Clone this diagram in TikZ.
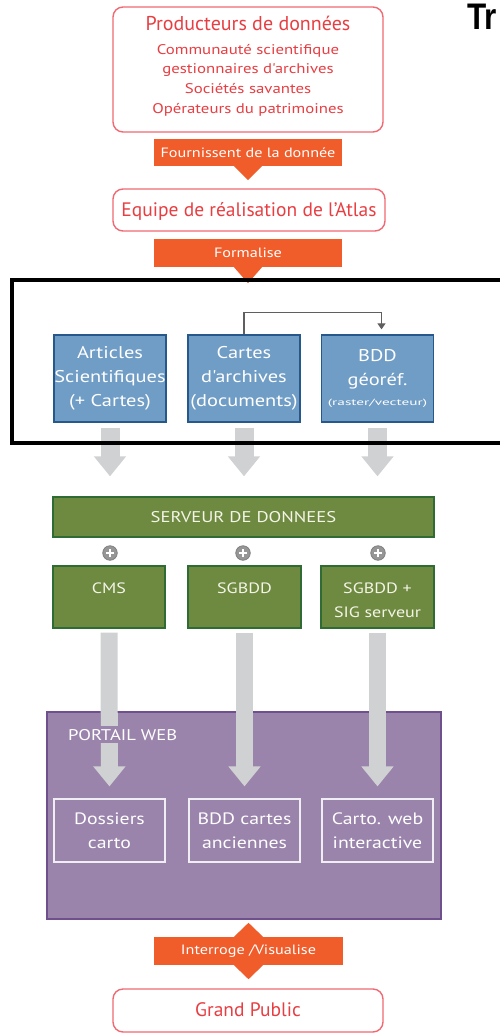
\documentclass[tikz,border=0pt]{standalone}
\usepackage{graphicx}
\usepackage{fontspec}
\setmainfont{PT Sans}
\newfontfamily\wide[FakeStretch=1.2]{PT Sans}
\newfontfamily\headfont[FakeStretch=0.85]{Liberation Sans}
\usetikzlibrary{arrows.meta}

\definecolor{redline}{RGB}{240,105,115}
\definecolor{redtext}{RGB}{232,62,66}
\definecolor{orangeband}{RGB}{240,92,42}
\definecolor{bluefill}{RGB}{112,157,197}
\definecolor{blueline}{RGB}{38,88,140}
\definecolor{greenfill}{RGB}{110,138,64}
\definecolor{greenline}{RGB}{46,108,52}
\definecolor{purplefill}{RGB}{155,132,172}
\definecolor{purpleline}{RGB}{112,80,140}
\definecolor{arrowgray}{RGB}{208,209,211}
\definecolor{linkgray}{RGB}{95,95,95}
\definecolor{plusgray}{RGB}{150,150,150}
\definecolor{lighttext}{RGB}{244,244,232}

% font size with a given line distance
\newcommand{\fs}[2]{\fontsize{#1}{#2}\selectfont}

\begin{document}
\begin{tikzpicture}[x=1pt,y=-1pt,
  redbox/.style={draw=redline, line width=1.4pt, rounded corners=10pt, fill=white},
  redtxt/.style={text=redtext, inner sep=0pt, anchor=base},
  band/.style={fill=orangeband, text=white, inner sep=0pt, font=\wide\fs{13.5}{16}},
  bluebox/.style={draw=blueline, line width=1.3pt, fill=bluefill, text=white,
    minimum width=112pt, minimum height=87pt, align=center, inner sep=0pt,
    font=\wide\fs{17}{24}},
  greenbox/.style={draw=greenline, line width=1.3pt, fill=greenfill, inner sep=0pt},
  gtext/.style={text=lighttext, align=center, font=\wide\fs{15}{24}, inner sep=0pt},
  portalbox/.style={draw=white!85!purplefill, line width=1.2pt, text=white,
    minimum width=111pt, minimum height=63pt, align=center, inner sep=0pt,
    font=\wide\fs{16.5}{24}},
  plusc/.style={circle, fill=plusgray, draw=plusgray!85!black, line width=0.8pt,
    minimum size=14.5pt, inner sep=0pt,
    path picture={\draw[white, line width=2.2pt]
      ([xshift=-4pt]path picture bounding box.center) -- ([xshift=4pt]path picture bounding box.center)
      ([yshift=-4pt]path picture bounding box.center) -- ([yshift=4pt]path picture bounding box.center);}},
  bigarrow/.style={draw=arrowgray, line width=19pt,
    -{Triangle[width=31pt,length=20pt]}},
  linkarrow/.style={draw=linkgray, line width=1.2pt,
    -{Triangle[width=8pt,length=6pt]}},
  tri/.style={fill=orangeband}
]
\useasboundingbox (0,0) rectangle (500,1033);

% heading, cut at the right edge
\node[anchor=base west, inner sep=0pt, font=\headfont\bfseries\fs{37}{40}] (head) at (467,29.5) {Tr};

% data producers
\node[redbox, minimum width=270pt, minimum height=125pt] (prod) at (248,69.5) {};
\node[redtxt, font=\fs{20}{24}] (prodt) at (248,30.7) {Producteurs de données};
\node[redtxt, font=\wide\fs{14}{18}] (prod1) at (248,54.5) {Communauté scientifique};
\node[redtxt, font=\wide\fs{14}{18}] (prod2) at (248,74) {gestionnaires d'archives};
\node[redtxt, font=\wide\fs{14}{18}] (prod3) at (248,93.5) {Sociétés savantes};
\node[redtxt, font=\wide\fs{14}{18}] (prod4) at (248,113) {Opérateurs du patrimoines};

\node[band, minimum width=188pt, minimum height=27pt] (four) at (248,152.5) {Fournissent de la donnée};
\fill[tri] ([xshift=-14pt]four.south) -- ([xshift=14pt]four.south) -- ([yshift=-14pt]four.south) -- cycle;

\node[redbox, minimum width=272pt, minimum height=42pt] (equipe) at (249,210) {};
\node[redtxt, font=\fs{19.5}{24}] (equipet) at (249,216.7) {Equipe de réalisation de l'Atlas};

\node[band, minimum width=188pt, minimum height=28pt] (form) at (248,253) {Formalise};
\fill[tri] ([xshift=-14pt]form.south) -- ([xshift=14pt]form.south) -- ([yshift=-16pt]form.south) -- cycle;

% sources
\node[bluebox] (art) at (110,378.5) {Articles\\Scientifiques\\(+ Cartes)};
\node[bluebox] (cart) at (244,378.5) {Cartes\\d'archives\\(documents)};
\node[bluebox] (bdd) at (377.5,378.5) {BDD\\géoréf.\\[-4pt]\scalebox{1.7}[1]{\normalfont\fs{9}{10}(raster/vecteur)}};
\draw[linkarrow] (cart.north) -- ++(0,-22) -| ([xshift=4pt,yshift=5pt]bdd.north);

% data server
\node[greenbox, minimum width=381pt, minimum height=40pt, text=lighttext, font=\wide\fs{15.5}{18}] (srv) at (243.5,517) {SERVEUR DE DONNEES};

\foreach \n in {art,cart,bdd}
  \draw[bigarrow, shorten <=5pt, shorten >=20pt] (\n.south) -- (\n.south |- srv.north);

% highlight frame around the sources
\draw[black, line width=4pt] (12,280) rectangle (503,443);

\node[plusc] (p1) at (110,553) {};
\node[plusc] (p2) at (243,553) {};
\node[plusc] (p3) at (378,553) {};

\node[greenbox, minimum width=112pt, minimum height=62pt] (cms) at (109,597) {};
\node[greenbox, minimum width=113pt, minimum height=62pt] (sgbdd) at (244.5,597) {};
\node[greenbox, minimum width=113pt, minimum height=62pt] (sig) at (377.5,597) {};
\node[gtext, anchor=base] (cmst) at (109,593) {CMS};
\node[gtext, anchor=base] (sgbddt) at (244.5,593) {SGBDD};
\node[gtext, anchor=base] (sigt) at (377.5,593) {SGBDD +};
\node[gtext, anchor=base] (sigt2) at (377.5,617) {SIG serveur};

% web portal
\node[draw=purpleline, line width=1.3pt, fill=purplefill, minimum width=394pt, minimum height=207pt] (portal) at (244,815.5) {};

\node[portalbox] (dos) at (109.5,830.5) {Dossiers\\carto};
\node[portalbox] (bddc) at (244.5,830.5) {BDD cartes\\anciennes};
\node[portalbox] (carto) at (377.5,830.5) {Carto. web\\interactive};

\draw[bigarrow, line width=17pt, shorten <=4pt, shorten >=12pt] (cms.south) -- (dos.north);
\draw[bigarrow, line width=17pt, shorten <=4pt, shorten >=12pt] (sgbdd.south) -- (bddc.north);
\draw[bigarrow, line width=17pt, shorten <=4pt, shorten >=12pt] (sig.south) -- (carto.north);

\node[anchor=base west, fill=purplefill, text=white, font=\wide\fs{15.5}{18}, inner xsep=1pt, inner ysep=3pt] (portaltxt) at (67,740) {PORTAIL WEB};

% public access
\node[band, minimum width=189pt, minimum height=28pt] (inter) at (248.5,951) {Interroge /Visualise};
\fill[tri] ([xshift=-14.5pt]inter.north) -- ([xshift=14.5pt]inter.north) -- ([yshift=14pt]inter.north) -- cycle;
\fill[tri] ([xshift=-14.5pt]inter.south) -- ([xshift=14.5pt]inter.south) -- ([yshift=-14pt]inter.south) -- cycle;

\node[redbox, minimum width=270pt, minimum height=43pt] (public) at (248,1010.5) {};
\node[redtxt, font=\fs{19.5}{24}] (publict) at (248,1016) {Grand Public};
\end{tikzpicture}
\end{document}
